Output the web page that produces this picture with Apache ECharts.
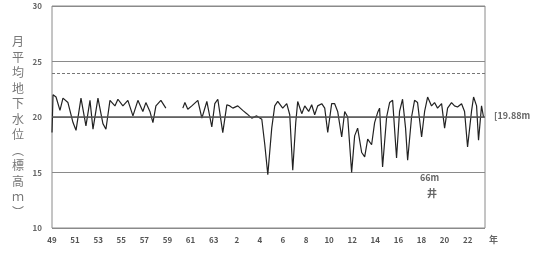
<!DOCTYPE html>
<html>
<head>
<meta charset="utf-8">
<script src="https://cdn.jsdelivr.net/npm/echarts@6/dist/echarts.min.js"></script>
<style>
  html, body { margin: 0; padding: 0; background: #fff; }
  #chart { width: 551px; height: 258px; }
</style>
</head>
<body>
<div id="chart"></div>
<script>
// 年（西暦の小数）と月平均地下水位（標高 m）
const years = [
  1974.0, 1974.09, 1974.35, 1974.69, 1974.95, 1975.38, 1975.82, 1976.08, 1976.51, 1976.94,
  1977.29, 1977.55, 1977.98, 1978.41, 1978.67, 1979.02, 1979.45, 1979.71, 1980.14, 1980.57,
  1981.01, 1981.44, 1981.87, 1982.13, 1982.48, 1982.74, 1983.0, 1983.43, 1983.86, 1984.5,
  1985.33, 1985.51, 1985.76, 1986.11, 1986.63, 1986.98, 1987.41, 1987.84, 1988.1, 1988.36,
  1988.79, 1989.14, 1989.4, 1989.66, 1990.09, 1990.52, 1990.87, 1991.3, 1991.73, 1992.17,
  1992.43, 1992.69, 1993.03, 1993.29, 1993.55, 1993.98, 1994.33, 1994.59, 1994.85, 1995.11,
  1995.28, 1995.63, 1995.89, 1996.23, 1996.49, 1996.75, 1997.01, 1997.36, 1997.62, 1997.88,
  1998.22, 1998.48, 1998.74, 1999.09, 1999.35, 1999.61, 1999.95, 2000.21, 2000.47, 2000.82,
  2001.08, 2001.34, 2001.68, 2001.94, 2002.2, 2002.37, 2002.63, 2002.98, 2003.24, 2003.5,
  2003.84, 2004.1, 2004.36, 2004.62, 2004.8, 2005.14, 2005.4, 2005.66, 2006.01, 2006.27,
  2006.53, 2006.87, 2007.13, 2007.39, 2007.74, 2008.0, 2008.26, 2008.6, 2008.86, 2009.12,
  2009.47, 2009.73, 2009.99, 2010.33, 2010.51, 2010.77, 2010.94, 2011.2, 2011.37
];
const levels = [
  18.6, 22.0, 21.8, 20.6, 21.7, 21.3, 19.5, 18.8, 21.7, 19.2,
  21.5, 18.9, 21.7, 19.4, 18.9, 21.5, 21.0, 21.6, 21.0, 21.5,
  20.1, 21.5, 20.5, 21.3, 20.5, 19.5, 21.0, 21.5, 20.8, null,
  20.8, 21.3, 20.7, 21.0, 21.5, 19.9, 21.4, 19.1, 21.2, 21.6,
  18.6, 21.1, 21.0, 20.8, 21.0, 20.6, 20.3, 19.9, 20.1, 19.8,
  17.5, 14.8, 19.0, 21.0, 21.4, 20.8, 21.2, 20.2, 15.2, 19.5,
  21.4, 20.3, 21.0, 20.5, 21.1, 20.2, 21.0, 21.2, 20.8, 18.6,
  21.2, 21.2, 20.5, 18.2, 20.5, 20.0, 15.0, 18.3, 19.0, 16.8,
  16.4, 18.0, 17.5, 19.5, 20.4, 20.8, 15.5, 20.0, 21.3, 21.5,
  16.3, 20.5, 21.6, 19.0, 16.1, 20.0, 21.5, 21.3, 18.2, 20.5,
  21.8, 21.0, 21.3, 20.8, 21.2, 19.0, 20.8, 21.3, 21.0, 20.9,
  21.2, 20.5, 17.3, 20.5, 21.8, 21.0, 17.9, 21.0, 20.0
];
// 目盛ラベル（昭和49年〜平成22年、2年毎）
const xLabels = ['49', '51', '53', '55', '57', '59', '61', '63', '2', '4',
  '6', '8', '10', '12', '14', '16', '18', '20', '22'];
const yTicks = [10, 15, 20, 25, 30];
const refLevel = 20;      // 太線
const dashLevel = 23.9;   // 破線
const yTitle = ['月', '平', '均', '地', '下', '水', '位', '︵', '標', '高', 'ｍ', '︶'];

const font = '"Noto Sans CJK JP", "Noto Sans", sans-serif';
const chart = echarts.init(document.getElementById('chart'));

chart.setOption({
  animation: false,
  grid: {
    left: 52, right: 66, top: 6, bottom: 30,
    show: true, borderColor: '#8a8a8a', borderWidth: 1
  },
  xAxis: {
    type: 'value',
    min: 1974, max: 2011.5, interval: 2,
    axisLine: { show: false },
    axisTick: { show: false },
    splitLine: { show: false },
    axisLabel: {
      color: '#555', fontSize: 8, fontFamily: font, fontWeight: 'bold', margin: 8,
      showMaxLabel: false,
      formatter: v => xLabels[Math.round((v - 1974) / 2)] || ''
    }
  },
  yAxis: {
    type: 'value',
    min: yTicks[0], max: yTicks[yTicks.length - 1], interval: 5,
    axisLine: { show: false },
    axisTick: { show: false },
    splitLine: { lineStyle: { color: '#8a8a8a', width: 1 } },
    axisLabel: { color: '#666', fontSize: 8, fontFamily: font, fontWeight: 'bold', margin: 10 }
  },
  series: [{
    type: 'line',
    data: years.map((y, i) => [y, levels[i]]),
    showSymbol: false,
    connectNulls: false,
    lineStyle: { color: '#222', width: 1.2 },
    markLine: {
      silent: true, symbol: 'none', label: { show: false },
      data: [
        { yAxis: refLevel, lineStyle: { color: '#555', width: 1.5, type: 'solid' } },
        { yAxis: dashLevel, lineStyle: { color: '#777', width: 1, type: [3, 2] } }
      ]
    }
  }],
  graphic: [
    {
      type: 'text', left: 12, top: 34,
      style: {
        text: yTitle.join('\n'), fill: '#777', font: '12px ' + font,
        lineHeight: 15.5, align: 'left'
      }
    },
    { type: 'text', left: 489, top: 235, style: { text: '年', fill: '#666', font: 'bold 9px ' + font } },
    { type: 'text', left: 494, top: 111, style: { text: '[19.88m', fill: '#666', font: 'bold 9px ' + font } },
    { type: 'text', left: 420, top: 173, style: { text: '66m', fill: '#666', font: 'bold 9px ' + font } },
    { type: 'text', left: 427, top: 188, style: { text: '井', fill: '#666', font: 'bold 10px ' + font } }
  ]
});
</script>
</body>
</html>
